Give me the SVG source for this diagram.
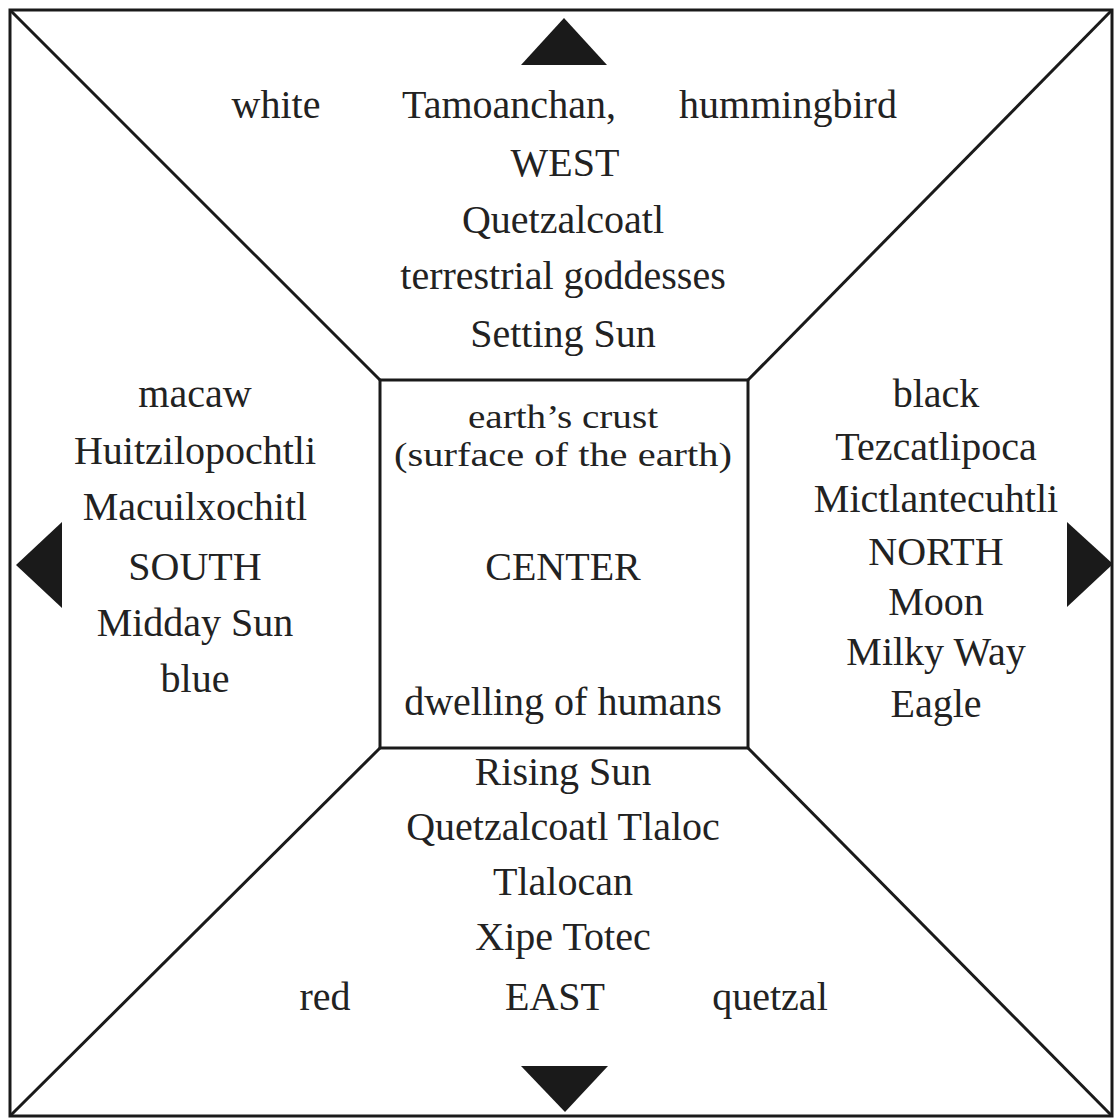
<svg xmlns="http://www.w3.org/2000/svg" width="1114" height="1118" viewBox="0 0 1114 1118">
<style>
text{font-family:"Liberation Serif","Times New Roman",serif;font-size:40px;fill:#222;text-anchor:middle}
.sm{font-size:34px}
.ln{stroke:#1a1a1a;stroke-width:3;fill:none}
.tri{fill:#1a1a1a}
</style>
<rect width="1114" height="1118" fill="#fff"/>
<g id="frame">
<rect class="ln" x="10" y="10" width="1102" height="1106"/>
</g>
<g id="connectors">
<line class="ln" x1="10" y1="10" x2="380" y2="380"/>
<line class="ln" x1="1112" y1="10" x2="748" y2="380"/>
<line class="ln" x1="10" y1="1116" x2="380" y2="748"/>
<line class="ln" x1="1112" y1="1116" x2="748" y2="748"/>
</g>
<g id="arrows">
<polygon class="tri" points="564,18 521,65 607,65"/>
<polygon class="tri" points="16,565 62,522 62,608"/>
<polygon class="tri" points="1113,564 1067,522 1067,607"/>
<polygon class="tri" points="565,1112 521,1066 608,1066"/>
</g>
<g id="center">
<rect class="ln" x="380" y="380" width="368" height="368"/>
<text class="sm" x="563" y="428" textLength="190" lengthAdjust="spacingAndGlyphs">earth’s crust</text>
<text class="sm" x="563" y="466" textLength="338" lengthAdjust="spacingAndGlyphs">(surface of the earth)</text>
<text x="563" y="580">CENTER</text>
<text x="563" y="715">dwelling of humans</text>
</g>
<g id="west">
<text x="276" y="118">white</text>
<text x="509" y="118">Tamoanchan,</text>
<text x="788" y="118">hummingbird</text>
<text x="565" y="176">WEST</text>
<text x="563" y="233">Quetzalcoatl</text>
<text x="563" y="289">terrestrial goddesses</text>
<text x="563" y="347">Setting Sun</text>
</g>
<g id="south">
<text x="195" y="407">macaw</text>
<text x="195" y="464">Huitzilopochtli</text>
<text x="195" y="520">Macuilxochitl</text>
<text x="195" y="580">SOUTH</text>
<text x="195" y="636">Midday Sun</text>
<text x="195" y="692">blue</text>
</g>
<g id="north">
<text x="936" y="407">black</text>
<text x="936" y="460">Tezcatlipoca</text>
<text x="936" y="512">Mictlantecuhtli</text>
<text x="936" y="565">NORTH</text>
<text x="936" y="615">Moon</text>
<text x="936" y="665">Milky Way</text>
<text x="936" y="717">Eagle</text>
</g>
<g id="east">
<text x="563" y="785">Rising Sun</text>
<text x="563" y="840">Quetzalcoatl Tlaloc</text>
<text x="563" y="895">Tlalocan</text>
<text x="563" y="950">Xipe Totec</text>
<text x="325" y="1010">red</text>
<text x="555" y="1010">EAST</text>
<text x="770" y="1010">quetzal</text>
</g>
</svg>
